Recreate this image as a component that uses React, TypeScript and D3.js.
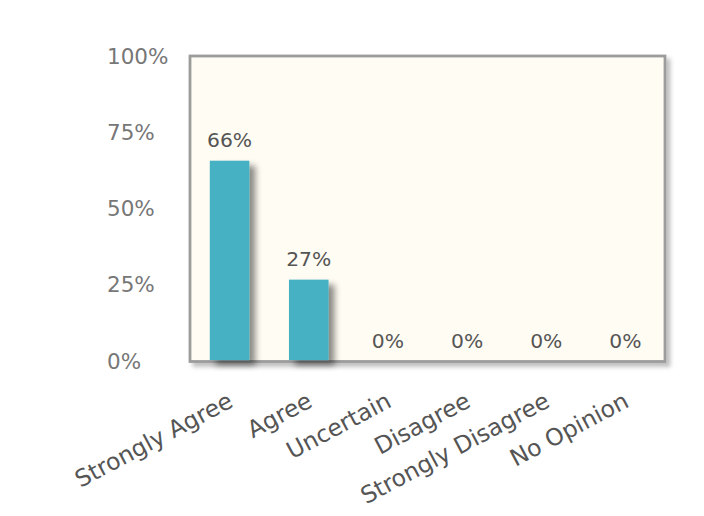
import React from "react";
import * as d3 from "d3";

const categories = ["Strongly Agree", "Agree", "Uncertain", "Disagree", "Strongly Disagree", "No Opinion"];
const values = [66, 27, 0, 0, 0, 0];
const yTicks = [0, 25, 50, 75, 100];

export default function App() {
  const W = 704, H = 516;
  const left = 190, right = 665, top = 56, bottom = 361.5;
  const x = d3.scaleBand<string>().domain(categories).range([left, right]).paddingInner(0.5).paddingOuter(0.25);
  const y = d3.scaleLinear().domain([0, 100]).range([362, 57]);
  const font = "'DejaVu Sans', Verdana, sans-serif";
  return (
    <svg width={W} height={H} style={{ position: "absolute", left: 0, top: 0, background: "#fff" }}>
      <defs>
        <filter id="fs" x="-10%" y="-10%" width="130%" height="130%">
          <feDropShadow dx="4" dy="4" stdDeviation="2.2" floodColor="#000" floodOpacity="0.25" />
        </filter>
        <filter id="bs" x="-30%" y="-10%" width="180%" height="130%">
          <feDropShadow dx="6" dy="5" stdDeviation="3" floodColor="#000" floodOpacity="0.45" />
        </filter>
      </defs>
      <rect x={left} y={top} width={right - left} height={bottom - top} fill="#fffcf3" stroke="#9c9c9c" strokeWidth={2.8} filter="url(#fs)" />
      {yTicks.map((t) => (
        <text key={t} x={107} y={y(t) - 1} dy="0.36em" textAnchor="start" fontFamily={font} fontSize={21.5} fill="#777">
          {t}%
        </text>
      ))}
      {categories.map((c, i) =>
        values[i] > 0 ? (
          <rect key={c} x={x(c)} y={y(values[i])} width={x.bandwidth()} height={bottom - 1.4 - y(values[i])} fill="#46b1c4" filter="url(#bs)" />
        ) : null
      )}
      {categories.map((c, i) => (
        <text key={"v" + c} x={(x(c) as number) + x.bandwidth() / 2} y={y(values[i]) - 14} textAnchor="middle" fontFamily={font} fontSize={20.3} fill="#555">
          {values[i]}%
        </text>
      ))}
      {categories.map((c) => {
        const cx = (x(c) as number) + x.bandwidth() / 2 + 5;
        const cy = 406;
        return (
          <text key={"c" + c} x={cx} y={cy} textAnchor="end" transform={`rotate(-28 ${cx} ${cy})`} fontFamily={font} fontSize={23.5} fill="#555">
            {c}
          </text>
        );
      })}
    </svg>
  );
}
